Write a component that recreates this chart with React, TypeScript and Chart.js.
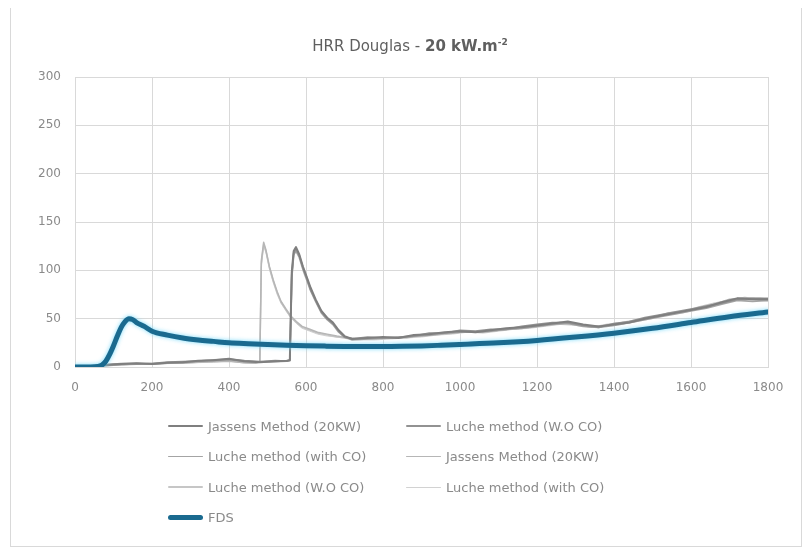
import React, { useEffect, useRef } from "react";
import { Chart, registerables } from "chart.js";

Chart.register(...registerables);

const FONT = "'DejaVu Sans', sans-serif";

// Test A (spike near 570 s)
const timeA = [0, 40, 80, 120, 160, 200, 240, 280, 320, 360, 400, 440, 480, 520,
  550, 558, 563, 568, 574, 582, 592, 602, 612, 625, 640, 655, 670, 685, 700,
  720, 760, 800, 840, 880, 920, 960, 1000, 1040, 1080, 1120, 1160, 1200, 1240, 1280,
  1320, 1360, 1400, 1440, 1480, 1520, 1560, 1600, 1640, 1680, 1720, 1760, 1800];
const janssensA = [0, 0.5, 2, 3, 4, 3, 4.5, 5, 6.5, 7, 8.5, 6, 5, 6,
  6.5, 7, 98, 120, 124, 117, 104, 93, 82, 70, 58, 51, 46, 38, 32,
  29, 30, 31, 30, 33, 34, 36, 37, 36, 38, 40, 41, 43, 45, 47, 44, 42, 44, 46, 50, 53, 56, 59, 62, 67, 71, 70, 70];
const lucheWoA = [0, 1, 2.5, 3.5, 3.5, 3.5, 5, 5.5, 6, 7.5, 8, 6.5, 5.5, 6.5,
  6, 7.5, 95, 118, 122, 116, 103, 92, 80, 69, 57, 50, 45, 37, 31,
  29, 31, 30, 31, 32, 35, 35, 38, 37, 39, 39, 42, 44, 46, 46, 43, 41, 45, 47, 51, 54, 57, 60, 63, 66, 70, 71, 71];
const lucheWithA = [0, 0.5, 1.5, 2.5, 3, 3, 4, 4.5, 6, 6.5, 8, 5.5, 5, 5.5,
  6, 6.5, 92, 116, 120, 114, 101, 90, 79, 68, 56, 49, 44, 36, 31,
  28, 29, 30, 30, 32, 33, 35, 36, 36, 37, 39, 40, 42, 44, 45, 42, 41, 43, 46, 49, 52, 55, 58, 61, 65, 69, 68, 69];

// Test B (spike near 490 s)
const timeB = [0, 40, 80, 120, 160, 200, 240, 280, 320, 360, 400, 440,
  470, 480, 484, 490, 496, 505, 515, 525, 535, 548, 560, 575, 590, 610, 630, 655, 680, 710, 740,
  780, 820, 860, 900, 940, 980, 1020, 1060, 1100, 1140, 1180, 1220, 1260, 1300, 1340, 1380,
  1420, 1460, 1500, 1540, 1580, 1620, 1660, 1700, 1740, 1780, 1800];
const janssensB = [0, 0.5, 1.5, 2.5, 3, 3.5, 4, 4, 5, 5.5, 6, 4.5,
  4, 5, 110, 129, 121, 104, 90, 78, 68, 60, 53, 47, 42, 39, 36, 34, 32, 30, 29,
  29, 30, 31, 32, 34, 35, 37, 36, 38, 40, 41, 43, 46, 44, 42, 43, 45, 48, 52, 55, 58, 61, 65, 70, 72, 70, 69];
const lucheWoB = [0, 1, 2, 3, 3.5, 3, 4.5, 4.5, 5.5, 6, 6.5, 5,
  4.5, 5.5, 107, 127, 120, 103, 89, 77, 67, 59, 52, 46, 41, 38, 35, 33, 31, 30, 29,
  30, 31, 30, 33, 33, 36, 36, 37, 39, 39, 42, 44, 45, 45, 41, 44, 46, 49, 51, 56, 57, 62, 66, 69, 71, 71, 70];
const lucheWithB = [0, 0.5, 1.5, 2, 3, 3, 3.5, 4, 4.5, 5, 6, 4,
  4, 5, 104, 125, 118, 101, 87, 75, 66, 58, 51, 45, 40, 37, 34, 32, 31, 29, 28,
  28, 29, 30, 31, 33, 34, 36, 35, 37, 39, 40, 42, 44, 43, 41, 42, 44, 47, 50, 54, 56, 60, 64, 68, 70, 69, 68];

// FDS simulation
const timeFDS = [0, 20, 40, 60, 70, 80, 90, 100, 110, 120, 130, 140, 150, 160, 180, 200, 240, 280, 320,
  360, 400, 450, 500, 550, 600, 650, 700, 750, 800, 850, 900, 950, 1000, 1100, 1200, 1300, 1400,
  1500, 1600, 1700, 1800];
const fds = [0, 0, 0, 0.5, 2, 6, 13, 22, 32, 41, 47, 50, 49, 46, 42, 37, 33, 30, 28,
  26.5, 25, 24, 23.2, 22.5, 22, 21.6, 21.3, 21.2, 21.2, 21.4, 21.8, 22.5, 23.3, 25, 27.5, 31, 35,
  40, 46, 52, 57];

const xTicks = [0, 200, 400, 600, 800, 1000, 1200, 1400, 1600, 1800];
const yTicks = [0, 50, 100, 150, 200, 250, 300];

const seriesNames = [
  "Jassens Method (20KW)",
  "Luche method (W.O CO)",
  "Luche method (with CO)",
  "Jassens Method (20KW)",
  "Luche method (W.O CO)",
  "Luche method (with CO)",
  "FDS",
];
const seriesColors = ["#7f7f7f", "#929292", "#a4a4a4", "#b6b6b6", "#c6c6c6", "#d2d2d2", "#1a6a8f"];
const seriesWidths = [2, 1.75, 1.75, 1.5, 1.5, 1, 5];

const pts = (t: number[], v: number[]) => t.map((x, i) => ({ x, y: v[i] }));

const glowPlugin = {
  id: "fdsGlow",
  beforeDatasetDraw(chart: any, args: any) {
    if (args.index === 6) {
      const ctx = chart.ctx;
      ctx.save();
      ctx.shadowColor = "rgba(110, 215, 250, 0.9)";
      ctx.shadowBlur = 4;
    }
  },
  afterDatasetDraw(chart: any, args: any) {
    if (args.index === 6) chart.ctx.restore();
  },
};

export default function App() {
  const ref = useRef<HTMLCanvasElement | null>(null);

  useEffect(() => {
    if (!ref.current) return;
    const series = [
      pts(timeA, janssensA),
      pts(timeA, lucheWoA),
      pts(timeA, lucheWithA),
      pts(timeB, janssensB),
      pts(timeB, lucheWoB),
      pts(timeB, lucheWithB),
      pts(timeFDS, fds),
    ];
    const chart = new Chart(ref.current, {
      type: "line",
      data: {
        datasets: series.map((d, i) => ({
          label: seriesNames[i],
          data: d,
          borderColor: seriesColors[i],
          backgroundColor: seriesColors[i],
          borderWidth: seriesWidths[i],
          pointRadius: 0,
          tension: 0,
          cubicInterpolationMode: i === 6 ? "monotone" : "default",
          borderCapStyle: "round",
          borderJoinStyle: "round",
          order: i === 6 ? 0 : 1,
        })),
      },
      options: {
        animation: false,
        responsive: false,
        maintainAspectRatio: false,
        layout: { padding: { left: 0, right: 33, top: 69, bottom: 149 } },
        plugins: {
          legend: { display: false },
          title: { display: false },
          tooltip: { enabled: false },
        },
        scales: {
          x: {
            type: "linear",
            min: 0,
            max: 1800,
            afterBuildTicks: (s: any) => {
              s.ticks = xTicks.map((v) => ({ value: v }));
            },
            afterFit: (s: any) => {
              s.height = 30;
            },
            grid: { color: "#d9d9d9", drawTicks: false, lineWidth: 1 },
            border: { color: "#d9d9d9" },
            ticks: {
              padding: 14,
              color: "#8a8a8a",
              font: { family: FONT, size: 12 },
              maxRotation: 0,
              callback: (v: any) => String(v),
            },
          },
          y: {
            min: 0,
            max: 300,
            afterBuildTicks: (s: any) => {
              s.ticks = yTicks.map((v) => ({ value: v }));
            },
            afterFit: (s: any) => {
              s.width = 64;
            },
            grid: { color: "#d9d9d9", drawTicks: false, lineWidth: 1 },
            border: { color: "#d9d9d9" },
            ticks: {
              padding: 14,
              color: "#8a8a8a",
              font: { family: FONT, size: 12 },
              callback: (v: any) => String(v),
            },
          },
        },
      },
      plugins: [glowPlugin],
    } as any);
    return () => chart.destroy();
  }, []);

  const legendRows = [[0, 1], [2, 3], [4, 5], [6]];

  return (
    <div
      style={{
        position: "relative",
        width: 790,
        height: 538,
        margin: "-1px 0 0 2px",
        border: "1px solid #d9d9d9",
        background: "#fff",
        fontFamily: FONT,
      }}
    >
      <canvas ref={ref} width={790} height={538} style={{ display: "block" }} />
      <div
        style={{
          position: "absolute",
          top: 24,
          left: 0,
          width: 798,
          textAlign: "center",
          color: "#5f5f5f",
          fontSize: 15,
          lineHeight: "20px",
        }}
      >
        HRR Douglas - <b>20 kW.m<sup style={{ fontSize: 9 }}>-2</sup></b>
      </div>
      {legendRows.map((row, r) => (
        <div
          key={r}
          style={{
            position: "absolute",
            left: 157,
            top: 410 + r * 30.5,
            height: 16,
          }}
        >
          {row.map((si, k) => (
            <div
              key={si}
              style={{
                position: "absolute",
                left: k === 0 ? 0 : 238,
                top: 0,
                height: 16,
                display: "flex",
                alignItems: "center",
                whiteSpace: "nowrap",
              }}
            >
              <div
                style={{
                  width: 35,
                  height: seriesWidths[si],
                  background: seriesColors[si],
                  borderRadius: si === 6 ? 3 : 1,
                  marginRight: 5,
                }}
              />
              <span style={{ color: "#8a8a8a", fontSize: 13 }}>{seriesNames[si]}</span>
            </div>
          ))}
        </div>
      ))}
    </div>
  );
}
